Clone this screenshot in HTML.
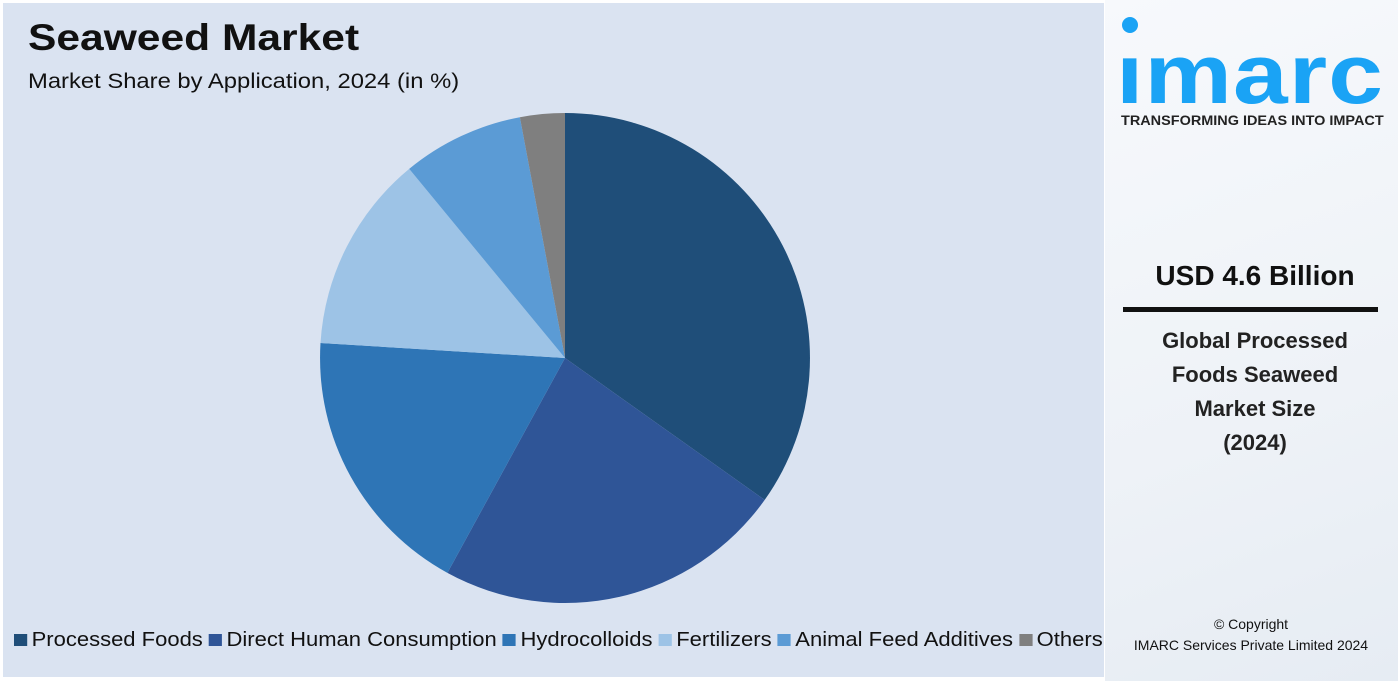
<!DOCTYPE html>
<html><head><meta charset="utf-8"><style>
body{margin:0;width:1398px;height:681px;background:#fff;font-family:"Liberation Sans",sans-serif;position:relative;overflow:hidden}
.left{position:absolute;left:3px;top:3px;width:1101px;height:674px;background:#dae3f1}
.right{position:absolute;left:1105px;top:0;width:293px;height:681px;background:linear-gradient(160deg,#f7f9fc,#eef2f7 60%,#e6ecf3)}
h1{position:absolute;left:28px;top:17px;margin:0;font-size:37px;font-weight:bold;color:#111;transform-origin:0 0;transform:scaleX(1.15);white-space:nowrap}
.sub{position:absolute;left:28px;top:70px;font-size:21px;color:#111;transform-origin:0 0;transform:scaleX(1.133);white-space:nowrap}
.legend{position:absolute;left:14px;top:629px;font-size:20px;color:#111;white-space:nowrap;transform-origin:0 0;transform:scaleX(1.10)}
.legend span{display:inline-block;width:12px;height:12px;margin:0 4px 0 0}
</style></head><body>
<div class="left"></div>
<div class="right"></div>
<h1>Seaweed Market</h1>
<div class="sub">Market Share by Application, 2024 (in %)</div>
<svg style="position:absolute;left:0;top:0" width="1104" height="681">
<path d="M565,358 L565,113 A245,245 0 0 1 764.7,499.9 Z" fill="#1f4e79"/>
<path d="M565,358 L764.7,499.9 A245,245 0 0 1 447.4,572.9 Z" fill="#2f5597"/>
<path d="M565,358 L447.4,572.9 A245,245 0 0 1 320.5,343 Z" fill="#2e75b6"/>
<path d="M565,358 L320.5,343 A245,245 0 0 1 409.2,168.9 Z" fill="#9dc3e6"/>
<path d="M565,358 L409.2,168.9 A245,245 0 0 1 519.9,117.2 Z" fill="#5b9bd5"/>
<path d="M565,358 L519.9,117.2 A245,245 0 0 1 565,113 Z" fill="#7f7f7f"/>
</svg>
<div class="legend"><span style="background:#1f4e79"></span>Processed Foods <span style="background:#2f5597"></span>Direct Human Consumption <span style="background:#2e75b6"></span>Hydrocolloids <span style="background:#9dc3e6"></span>Fertilizers <span style="background:#5b9bd5"></span>Animal Feed Additives <span style="background:#7f7f7f"></span>Others</div>
<div style="position:absolute;left:1122px;top:17px;width:16px;height:16px;border-radius:50%;background:#1aa3f5"></div>
<div style="position:absolute;left:1116px;top:34px;font-size:84px;font-weight:bold;color:#1aa3f5;letter-spacing:1px;line-height:80px;transform-origin:0 0;transform:scaleX(1.17)">ımarc</div>
<div style="position:absolute;left:1121px;top:113px;font-size:13.5px;font-weight:bold;color:#222;transform-origin:0 0;transform:scaleX(1.07);white-space:nowrap">TRANSFORMING IDEAS INTO IMPACT</div>
<div style="position:absolute;left:1110px;width:290px;text-align:center;top:260px;font-size:28px;font-weight:bold;color:#111">USD 4.6 Billion</div>
<div style="position:absolute;left:1123px;top:307px;width:255px;height:5px;background:#111"></div>
<div style="position:absolute;left:1110px;width:290px;text-align:center;top:324px;font-size:22px;font-weight:bold;color:#222;line-height:34px">Global Processed<br>Foods Seaweed<br>Market Size<br>(2024)</div>
<div style="position:absolute;left:1110px;width:282px;text-align:center;top:614px;font-size:14px;color:#111;line-height:21px">© Copyright<br>IMARC Services Private Limited 2024</div>
</body></html>
